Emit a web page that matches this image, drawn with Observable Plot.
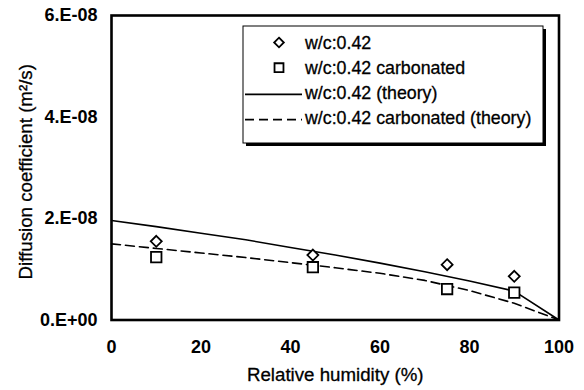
<!DOCTYPE html>
<html>
<head>
<meta charset="utf-8">
<script src="https://cdn.jsdelivr.net/npm/d3@7"></script>
<script src="https://cdn.jsdelivr.net/npm/@observablehq/plot@0.6"></script>
<style>
  html, body { margin: 0; padding: 0; background: #fff; }
  #chart { position: relative; width: 584px; height: 390px; }
</style>
</head>
<body>
<div id="chart"></div>
<script>
// ---- data ----
const rhMeasured = [10, 45, 75, 90];
const dPlain = [1.55e-8, 1.28e-8, 1.09e-8, 0.86e-8];        // w/c:0.42
const dCarbonated = [1.24e-8, 1.04e-8, 0.61e-8, 0.54e-8];   // w/c:0.42 carbonated

const rhTheory = [0, 10, 20, 30, 40, 50, 60, 70, 80, 90, 100];
const dTheoryPlain = [1.96e-8, 1.84e-8, 1.71e-8, 1.58e-8, 1.43e-8, 1.28e-8, 1.12e-8, 0.95e-8, 0.77e-8, 0.57e-8, 0];
const dTheoryCarb = [1.50e-8, 1.41e-8, 1.32e-8, 1.23e-8, 1.13e-8, 1.03e-8, 0.92e-8, 0.78e-8, 0.58e-8, 0.33e-8, 0];

const xTicks = [0, 20, 40, 60, 80, 100];
const yTicks = [0, 2e-8, 4e-8, 6e-8];
const yTickLabels = ["0.E+00", "2.E-08", "4.E-08", "6.E-08"];

const xTitle = "Relative humidity (%)";
const yTitle = "Diffusion coefficient (m\u00B2/s)";

const legendLabels = ["w/c:0.42", "w/c:0.42 carbonated", "w/c:0.42 (theory)", "w/c:0.42 carbonated (theory)"];
const legendKinds = ["diamond", "square", "solid", "dashed"];

// ---- tables ----
const plainPts = rhMeasured.map((x, i) => ({x, y: dPlain[i]}));
const carbPts = rhMeasured.map((x, i) => ({x, y: dCarbonated[i]}));
const thPlain = rhTheory.map((x, i) => ({x, y: dTheoryPlain[i]}));
const thCarb = rhTheory.map((x, i) => ({x, y: dTheoryCarb[i]}));

const FONT = "Liberation Sans, Arial, Helvetica, sans-serif";
const DASH = "9,5";

const chart = Plot.plot({
  width: 584,
  height: 390,
  marginLeft: 111,
  marginRight: 25.5,
  marginTop: 15,
  marginBottom: 70.5,
  style: {fontFamily: FONT, background: "white", color: "black"},
  x: {domain: [0, 100]},
  y: {domain: [0, 6e-8]},
  marks: [
    Plot.axisX({ticks: xTicks, tickSize: 0, tickPadding: 20, fontSize: 18, fontWeight: "bold", label: null, tickFormat: d => String(d)}),
    Plot.axisY({ticks: yTicks, tickSize: 0, tickPadding: 14, fontSize: 18, fontWeight: "bold", label: null,
      tickFormat: d => yTickLabels[yTicks.indexOf(d)]}),
    Plot.line(thPlain, {x: "x", y: "y", stroke: "black", strokeWidth: 1.6}),
    Plot.line(thCarb, {x: "x", y: "y", stroke: "black", strokeWidth: 1.6, strokeDasharray: DASH}),
    Plot.dot(plainPts, {x: "x", y: "y", symbol: "diamond2", r: 4.95, stroke: "black", strokeWidth: 1.8, fill: "white"}),
    Plot.dot(carbPts, {x: "x", y: "y", symbol: "square", r: 5.9, stroke: "black", strokeWidth: 1.8, fill: "white"}),
    Plot.frame({stroke: "black", strokeWidth: 2.6}),
    Plot.text([xTitle], {text: d => d, frameAnchor: "bottom", textAnchor: "middle", lineAnchor: "middle", dy: 55.5, fontSize: 18.7, fill: "black", stroke: "black", strokeWidth: 0.3}),
    Plot.text([yTitle], {text: d => d, frameAnchor: "left", textAnchor: "middle", lineAnchor: "middle", rotate: -90, dx: -85.5, dy: 4, fontSize: 18.7, fill: "black", stroke: "black", strokeWidth: 0.3})
  ]
});

document.getElementById("chart").appendChild(chart);

// make sure tick labels are bold
d3.select(chart).selectAll('g[aria-label="x-axis tick label"], g[aria-label="y-axis tick label"]')
  .attr("font-weight", "bold");

// ---- legend (inside the plot area, upper right) ----
const svg = d3.select(chart);
const lg = svg.append("g").attr("font-family", FONT).attr("font-size", 17.8).attr("text-anchor", "start");
const box = {x: 243, y: 26, w: 300, h: 117};
lg.append("rect").attr("x", box.x + 3).attr("y", box.y + 3).attr("width", box.w).attr("height", box.h).attr("fill", "black");
lg.append("rect").attr("x", box.x).attr("y", box.y).attr("width", box.w).attr("height", box.h)
  .attr("fill", "white").attr("stroke", "black").attr("stroke-width", 1);

legendLabels.forEach((label, i) => {
  const cy = 42.5 + 25.2 * i;
  const kind = legendKinds[i];
  const row = lg.append("g");
  if (kind === "diamond") {
    row.append("path").attr("transform", `translate(279,${cy})`)
      .attr("d", d3.symbol(d3.symbolDiamond2, 60)()).attr("fill", "white").attr("stroke", "black").attr("stroke-width", 1.8);
  } else if (kind === "square") {
    row.append("path").attr("transform", `translate(279,${cy})`)
      .attr("d", d3.symbol(d3.symbolSquare, 80)()).attr("fill", "white").attr("stroke", "black").attr("stroke-width", 1.8);
  } else {
    row.append("line").attr("x1", 245).attr("x2", 302).attr("y1", cy + 1.5).attr("y2", cy + 1.5)
      .attr("stroke", "black").attr("stroke-width", 1.6)
      .attr("stroke-dasharray", kind === "dashed" ? DASH : null);
  }
  row.append("text").attr("x", 305).attr("y", cy + 6).attr("fill", "black")
    .attr("stroke", "black").attr("stroke-width", 0.3)
    .attr("text-anchor", "start").text(label);
});
</script>
</body>
</html>
